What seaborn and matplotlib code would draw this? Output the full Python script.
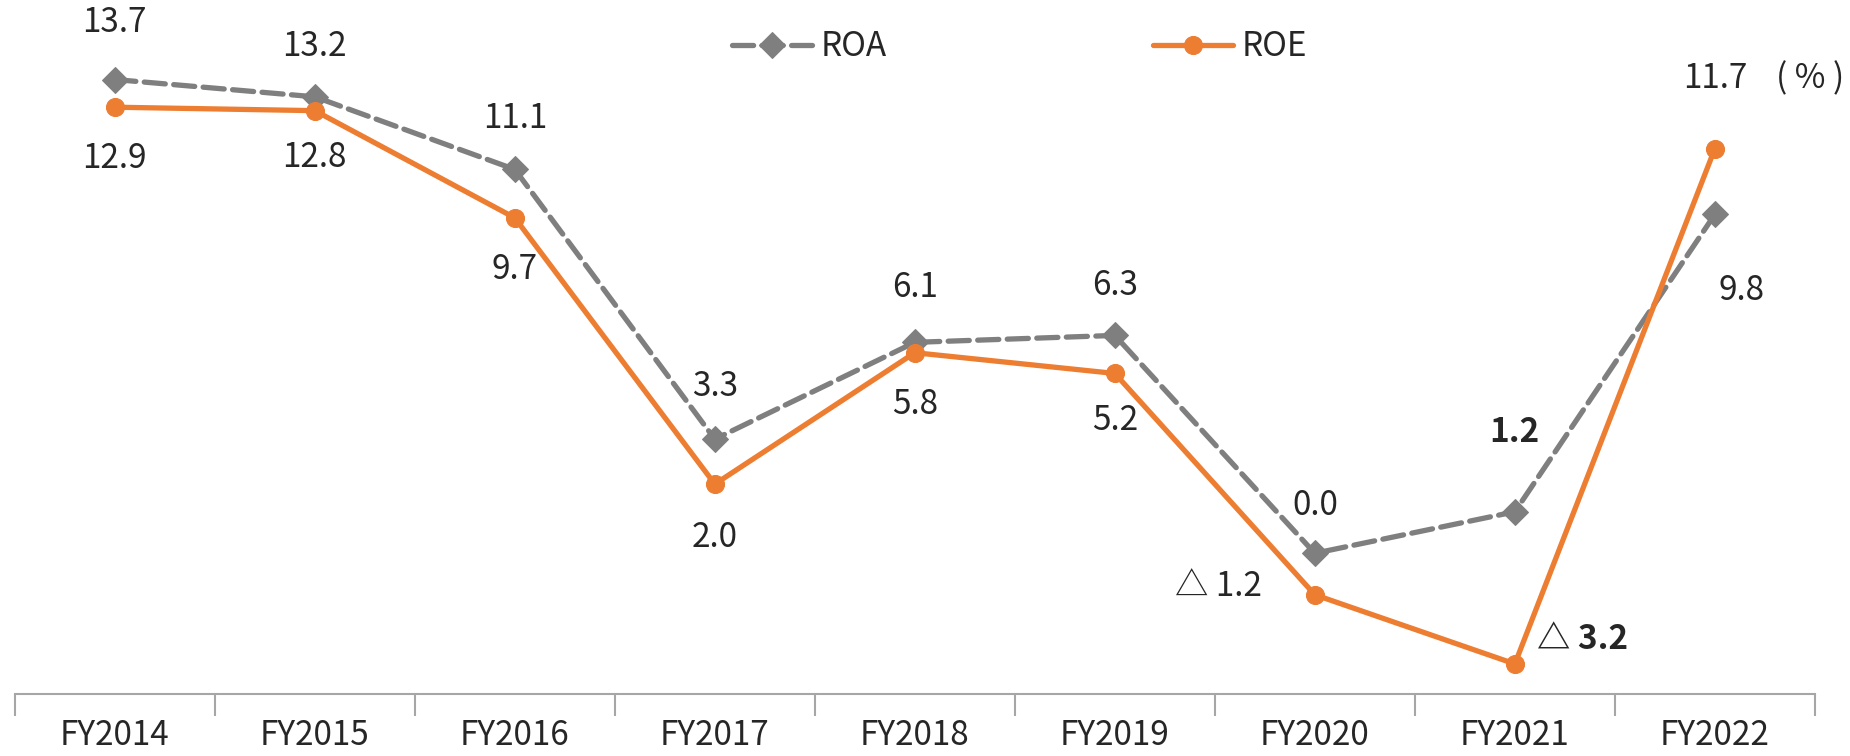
import numpy as np
import pandas as pd
import matplotlib
matplotlib.use("Agg")
import matplotlib.pyplot as plt
import seaborn as sns

# data
years = ['FY2014', 'FY2015', 'FY2016', 'FY2017', 'FY2018', 'FY2019', 'FY2020', 'FY2021', 'FY2022']
roa = [13.7, 13.2, 11.1, 3.3, 6.1, 6.3, 0.0, 1.2, 9.8]
roe = [12.9, 12.8, 9.7, 2.0, 5.8, 5.2, -1.2, -3.2, 11.7]

sns.set_style('white')
plt.rcParams['font.family'] = ['Noto Sans CJK JP', 'DejaVu Sans']

gray = '#7F7F7F'
orange = '#ED7D31'
fs = 24

fig = plt.figure(figsize=(18.5, 7.56), dpi=100)
ax = fig.add_axes([0.008, 0.082, 0.973, 0.918])

df = pd.DataFrame({'year': years, 'ROA': roa, 'ROE': roe})
sns.lineplot(data=df, x='year', y='ROA', ax=ax, color=gray, marker='D', markersize=13,
             markeredgecolor=gray, linewidth=3.8, sort=False, label='ROA')
sns.lineplot(data=df, x='year', y='ROE', ax=ax, color=orange, marker='o', markersize=13,
             markeredgecolor=orange, linewidth=3.8, sort=False, label='ROE')
ax.lines[0].set_dashes((4, 1.6))
ax.lines[0].set_dash_capstyle('round')

ax.set_xlim(-0.5, 8.5)
ax.set_ylim(-4.07, 16.0)

# data labels: (dx, dy) in pixels
def fmt(v):
    return ('△ %.1f' % abs(v)) if v < 0 else '%.1f' % v

roa_off = [(0, 57), (0, 50), (0, 51), (0, 53), (0, 55), (0, 50), (0, 48), (0, 79), (27, -76)]
roe_off = [(0, -51), (0, -47), (0, -52), (0, -53), (0, -52), (0, -47), (-96, 8), (68, 24), (0, 70)]
for i in range(len(years)):
    ax.annotate(fmt(roa[i]), (i, roa[i]), xytext=roa_off[i], textcoords='offset pixels',
                ha='center', va='center', fontsize=fs,
                fontweight='bold' if i == 7 else 'normal')
    ax.annotate(fmt(roe[i]), (i, roe[i]), xytext=roe_off[i], textcoords='offset pixels',
                ha='center', va='center', fontsize=fs,
                fontweight='bold' if i == 7 else 'normal')
ax.annotate('( % )', (8, roe[8]), xytext=(95, 70), textcoords='offset pixels',
            ha='center', va='center', fontsize=fs)

# axes styling
for s in ['left', 'top', 'right']:
    ax.spines[s].set_visible(False)
ax.spines['bottom'].set_color('#A6A6A6')
ax.spines['bottom'].set_linewidth(1.5)
ax.set_yticks([])
ax.set_xlabel('')
ax.set_ylabel('')
ax.set_xticks(range(len(years)))
ax.set_xticklabels(years, fontsize=fs)
ax.set_xticks(np.arange(-0.5, len(years), 1), minor=True)
ax.tick_params(axis='x', which='both', bottom=True)
ax.tick_params(axis='x', which='major', length=0, pad=17)
ax.tick_params(axis='x', which='minor', length=16, width=1.5, color='#A6A6A6')

ax.legend(loc='center', bbox_to_anchor=(0.551, 0.938), bbox_transform=fig.transFigure,
          ncol=2, frameon=False, fontsize=fs, handlelength=2.4, handletextpad=0.25,
          columnspacing=8.0)

fig.savefig('out.png', dpi=100)
